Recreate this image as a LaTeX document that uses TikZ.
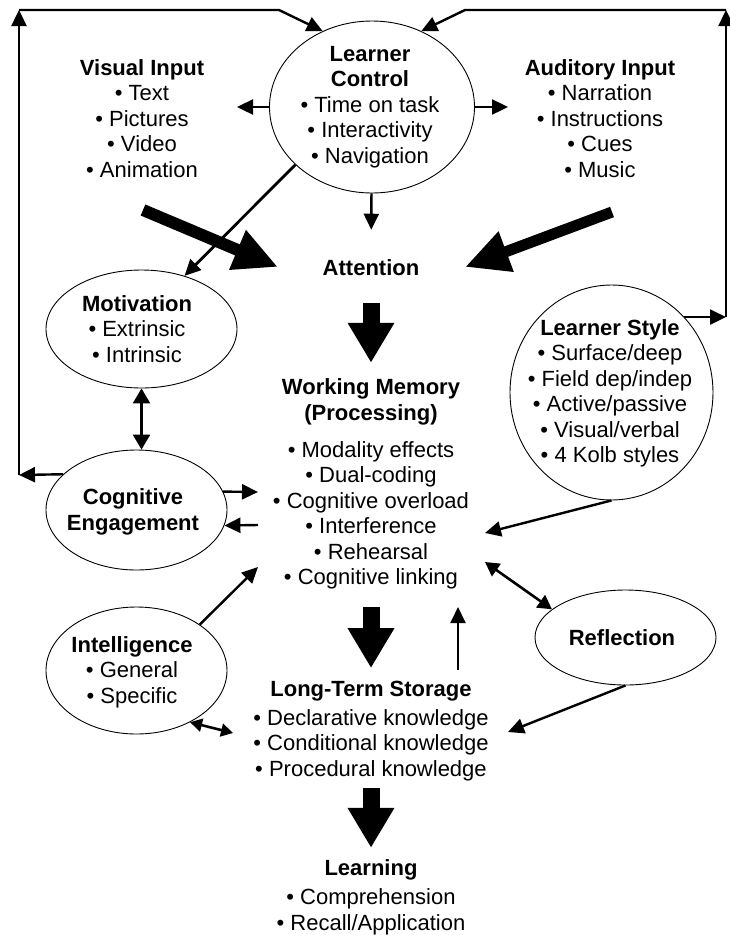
\documentclass[tikz,border=0pt]{standalone}
\usepackage{fontspec}
\setmainfont{Liberation Sans}
\usetikzlibrary{shapes.geometric,arrows.meta}

\begin{document}
\begin{tikzpicture}[x=1pt,y=1pt,yscale=-1,xscale=1,
  oval/.style={draw,ellipse,line width=0.9pt,inner sep=0pt},
  txt/.style={align=center,inner sep=0pt,font=\fontsize{22}{25.5}\selectfont},
  arr/.style={line width=2.4pt,-{Triangle[width=15pt,length=16pt]}},
  dbl/.style={line width=2.6pt,{Triangle[width=17pt,length=15pt]}-{Triangle[width=17pt,length=15pt]}},
  fat/.style={line width=17pt,-{Triangle[width=44pt,length=40pt]}},
  slant/.style={line width=12pt,-{Triangle[width=40pt,length=44pt]}}]

\useasboundingbox (0,0) rectangle (729,935);

\node[oval,minimum width=205pt,minimum height=172pt] (lc) at (372,107) {};
\node[oval,minimum width=191pt,minimum height=118pt] (mot) at (141.5,329) {};
\node[oval,minimum width=181pt,minimum height=120pt] (ce) at (136.5,510) {};
\node[oval,minimum width=181pt,minimum height=127pt] (intel) at (136.5,670.5) {};
\node[oval,minimum width=203pt,minimum height=215pt] (ls) at (611.5,392.5) {};
\node[oval,minimum width=181pt,minimum height=95pt] (refl) at (625.5,637.5) {};

\node[txt] (lctx) at (370,107) {\textbf{Learner}\\\textbf{Control}\\• Time on task\\• Interactivity\\• Navigation};
\node[txt] (vis) at (142,118.5) {\textbf{Visual Input}\\• Text\\• Pictures\\• Video\\• Animation};
\node[txt] (aud) at (600,118.5) {\textbf{Auditory Input}\\• Narration\\• Instructions\\• Cues\\• Music};
\node[txt] (att) at (371,268) {\textbf{Attention}};
\node[txt] (mottx) at (137,329) {\textbf{Motivation}\\• Extrinsic\\• Intrinsic};
\node[txt] (wmh) at (371,402) {\textbf{Working Memory}\\\textbf{(Processing)}};
\node[txt] (wm) at (371,515.5) {• Modality effects\\• Dual-coding\\• Cognitive overload\\• Interference\\• Rehearsal\\• Cognitive linking};
\node[txt] (lstx) at (610,393.5) {\textbf{Learner Style}\\• Surface/deep\\• Field dep/indep\\• Active/passive\\• Visual/verbal\\• 4 Kolb styles};
\node[txt] (cetx) at (133,512) {\textbf{Cognitive}\\\textbf{Engagement}};
\node[txt] (inteltx) at (132,672) {\textbf{Intelligence}\\• General\\• Specific};
\node[txt] (refltx) at (622,638) {\textbf{Reflection}};
\node[txt] (ltsh) at (371,691) {\textbf{Long-Term Storage}};
\node[txt] (lts) at (371,745) {• Declarative knowledge\\• Conditional knowledge\\• Procedural knowledge};
\node[txt] (learnh) at (371,870) {\textbf{Learning}};
\node[txt] (learn) at (371,912) {• Comprehension\\• Recall/Application};

\coordinate (tl) at (19,10);
\coordinate (tlb) at (279,10);
\coordinate (tr) at (726,10);
\coordinate (trb) at (465,10);
\coordinate (cel) at (19,475);
\coordinate (lsr) at (726,317);
\coordinate (lcl) at (237,107);
\coordinate (lcr) at (508,107);
\coordinate (viss) at (143,210);
\coordinate (vist) at (278,267);
\coordinate (auds) at (612,212);
\coordinate (audt) at (465,267);
\coordinate (wml1) at (258,492);
\coordinate (wml2) at (258,525);
\coordinate (wml3) at (258,567);
\coordinate (wmr1) at (485,533);
\coordinate (wmr2) at (485,562);
\coordinate (wmu) at (458,607);
\coordinate (ltsu) at (458,670);
\coordinate (ltsr) at (508,732);
\coordinate (ltsl) at (233,733);

\draw[arr] (ce.154.5) -- (cel);
\draw[arr] (cel) -- (tl);
\draw[arr] (tl) -- (tlb) -- (lc.123);
\draw[arr] (ls.46) -- (ls.46 -| lsr);
\draw[arr] (lsr) -- (tr);
\draw[arr] (tr) -- (trb) -- (lc.57);

\draw[arr] (lc.west) -- (lcl);
\draw[arr] (lc.east) -- (lcr);
\draw[arr] (lc) -- (att) [shorten >=30pt];
\draw[arr,line width=2.8pt] (lc.217.5) -- (mot.51);

\draw[slant] (viss) -- (vist);
\draw[slant,line width=11pt] (auds) -- (audt);
\draw[fat,shorten <=27pt,shorten >=16pt] (att) -- (wmh);
\draw[fat,shorten <=17.5pt,shorten >=12.7pt] (wm) -- (ltsh);
\draw[fat,shorten <=7pt,shorten >=11.7pt] (lts) -- (learnh);

\draw[dbl] (mot.south) -- (mot.south |- ce.north);
\draw[arr] (ce.12) -- (wml1);
\draw[arr] (wml2) -- (ce.-10);
\draw[arr] (intel.36.5) -- (wml3);
\draw[dbl,{Triangle[width=13pt,length=12pt]}-{Triangle[width=13pt,length=12pt]}] (intel.-44.5) -- (ltsl);

\draw[arr] (ls.south) -- (wmr1);
\draw[dbl,{Triangle[width=15pt,length=14pt]}-{Triangle[width=15pt,length=14pt]}] (wmr2) -- (refl.159.5);
\draw[arr] (refl.south) -- (ltsr);
\draw[arr,line width=2pt] (ltsu) -- (wmu);

\end{tikzpicture}
\end{document}
